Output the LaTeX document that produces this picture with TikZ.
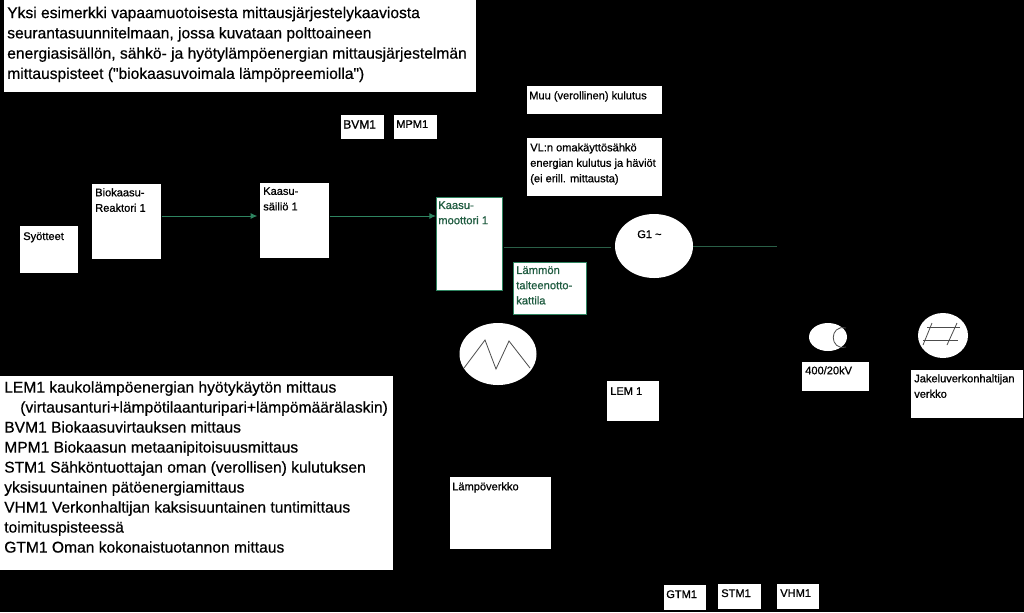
\documentclass[tikz,border=0pt]{standalone}
\usepackage{fontspec}
\setmainfont{Liberation Sans}
\newfontfamily\smallbold[FakeBold=0.8]{Liberation Sans}
\newfontfamily\bigbold[FakeBold=0.5]{Liberation Sans}
\usetikzlibrary{arrows.meta,shapes.geometric}
\definecolor{gline}{HTML}{2E8460}
\definecolor{gdark}{HTML}{2A5F47}
\definecolor{gtext}{HTML}{1F5C40}
\tikzset{
 x=0.75pt,y=-0.75pt,
 wbox/.style={fill=white,draw=none,inner sep=0pt},
 gbox/.style={fill=white,draw=gline,line width=0.6pt,inner sep=0pt},
 small/.style={font=\smallbold\fontsize{8.3}{11.6}\selectfont,anchor=north west,align=left,inner sep=0pt,text=black},
 big/.style={font=\bigbold\fontsize{11.7}{15.2}\selectfont,anchor=north west,align=left,inner sep=0pt,text=black},
 gsmall/.style={small,text=gtext,font=\smallbold\fontsize{8.4}{11.4}\selectfont},
 flow/.style={draw=gline,line width=0.75pt},
 flowd/.style={draw=gdark,line width=0.75pt},
 thin/.style={draw=black!70,line width=0.6pt},
}
\begin{document}
\begin{tikzpicture}
\useasboundingbox (0,0) rectangle (1024,612);
\fill[black] (0,0) rectangle (1024,612);
% boxes
\node[wbox,minimum width=472*0.75pt,minimum height=92*0.75pt,anchor=north west] (top) at (4,0) {};
\node[big] (toptext) at (7,6.5) {Yksi esimerkki vapaamuotoisesta mittausjärjestelykaaviosta\\seurantasuunnitelmaan, jossa kuvataan polttoaineen\\energiasisällön, sähkö- ja hyötylämpöenergian mittausjärjestelmän\\mittauspisteet ("biokaasuvoimala lämpöpreemiolla")};
\node[wbox,minimum width=43*0.75pt,minimum height=24*0.75pt,anchor=north west] (bvm) at (341,115) {};
\node[small,font=\smallbold\fontsize{9}{11}\selectfont] (bvmt) at (343,120) {BVM1};
\node[wbox,minimum width=43*0.75pt,minimum height=24*0.75pt,anchor=north west] (mpm) at (394,115) {};
\node[small] (mpmt) at (396,120) {MPM1};
\node[wbox,minimum width=135*0.75pt,minimum height=28*0.75pt,anchor=north west] (muu) at (527,86) {};
\node[small] (muut) at (529,91) {Muu (verollinen) kulutus};
\node[wbox,minimum width=135*0.75pt,minimum height=58*0.75pt,anchor=north west] (vl) at (527,138) {};
\node[small] (vlt) at (530,143) {VL:n omakäyttösähkö\\energian kulutus ja häviöt\\(ei erill. mittausta)};
\node[wbox,minimum width=58*0.75pt,minimum height=47*0.75pt,anchor=north west] (syo) at (20,226) {};
\node[small] (syot) at (23,232) {Syötteet};
\node[wbox,minimum width=69*0.75pt,minimum height=75*0.75pt,anchor=north west] (bio) at (92,184) {};
\node[small] (biot) at (95,188) {Biokaasu-\\Reaktori 1};
\node[wbox,minimum width=69*0.75pt,minimum height=75*0.75pt,anchor=north west] (sai) at (260,183) {};
\node[small] (sait) at (263,187) {Kaasu-\\säiliö 1};
\node[gbox,minimum width=66*0.75pt,minimum height=93*0.75pt,anchor=north west] (moot) at (436,197) {};
\node[gsmall] (moott) at (438,201) {Kaasu-\\moottori 1};
\node[gbox,minimum width=73*0.75pt,minimum height=52*0.75pt,anchor=north west] (lam) at (513,262) {};
\node[gsmall] (lamt) at (516,266) {Lämmön\\talteenotto-\\kattila};
\node[wbox,ellipse,minimum width=78*0.75pt,minimum height=64*0.75pt] (g1) at (654,246) {};
\node[small] (g1t) at (637,230) {G1 \textasciitilde};
\node[wbox,ellipse,minimum width=77*0.75pt,minimum height=62*0.75pt] (heat) at (498,354) {};
\coordinate (h1) at (464,368);
\coordinate (h2) at (485,340);
\coordinate (h3) at (496,369);
\coordinate (h4) at (509,341);
\coordinate (h5) at (530,368);
\draw[thin] (h1) -- (h2) -- (h3) -- (h4) -- (h5);
\node[wbox,minimum width=52*0.75pt,minimum height=40*0.75pt,anchor=north west] (lem) at (607,381) {};
\node[small] (lemt) at (610,387) {LEM 1};
\node[wbox,minimum width=101*0.75pt,minimum height=72*0.75pt,anchor=north west] (verk) at (450,477) {};
\node[small] (verkt) at (452,482) {Lämpöverkko};
\node[wbox,minimum width=393*0.75pt,minimum height=194*0.75pt,anchor=north west] (leg) at (0,376) {};
\node[big,font=\bigbold\fontsize{11.7}{15}\selectfont] (legt) at (4,381) {LEM1 kaukolämpöenergian hyötykäytön mittaus\\
\hspace*{12pt}(virtausanturi+lämpötilaanturipari+lämpömäärälaskin)\\
BVM1 Biokaasuvirtauksen mittaus\\
MPM1 Biokaasun metaanipitoisuusmittaus\\
STM1 Sähköntuottajan oman (verollisen) kulutuksen\\
yksisuuntainen pätöenergiamittaus\\
VHM1 Verkonhaltijan kaksisuuntainen tuntimittaus\\
toimituspisteessä\\
GTM1 Oman kokonaistuotannon mittaus};
\node[wbox,ellipse,minimum width=38*0.75pt,minimum height=28*0.75pt] (tr) at (828,337) {};
\coordinate (tr1) at (846,328);
\coordinate (tr2) at (846,347);
\draw[thin] (tr1) .. controls (829,324) and (829,351) .. (tr2);
\node[wbox,minimum width=67*0.75pt,minimum height=29*0.75pt,anchor=north west] (kv) at (802,362) {};
\node[small] (kvt) at (805,366) {400/20kV};
\node[wbox,ellipse,minimum width=50*0.75pt,minimum height=45*0.75pt] (grid) at (943,335.5) {};
\coordinate (g1a) at (932,323); \coordinate (g1b) at (923,345);
\coordinate (g2a) at (957,323); \coordinate (g2b) at (947,345);
\coordinate (g3a) at (927,327); \coordinate (g3b) at (960,327);
\coordinate (g4a) at (923,340); \coordinate (g4b) at (958,340);
\draw[thin] (g1a) -- (g1b); \draw[thin] (g2a) -- (g2b);
\draw[thin] (g3a) -- (g3b); \draw[thin] (g4a) -- (g4b);
\node[wbox,minimum width=112*0.75pt,minimum height=48*0.75pt,anchor=north west] (jak) at (911,370) {};
\node[small] (jakt) at (914,374) {Jakeluverkonhaltijan\\verkko};
\node[wbox,minimum width=42*0.75pt,minimum height=25*0.75pt,anchor=north west] (gtm) at (664,585) {};
\node[small] (gtmt) at (666,590) {GTM1};
\node[wbox,minimum width=43*0.75pt,minimum height=25*0.75pt,anchor=north west] (stm) at (718,584) {};
\node[small] (stmt) at (721,589) {STM1};
\node[wbox,minimum width=42*0.75pt,minimum height=25*0.75pt,anchor=north west] (vhm) at (777,584) {};
\node[small] (vhmt) at (780,589) {VHM1};
% connectors
\coordinate (yA) at (0,216);
\coordinate (yB) at (0,247);
\coordinate (gridfree) at (777,246);
\draw[flow,-{Latex[length=5pt,width=4.5pt]},shorten >=2pt] (bio.east|-yA) -- (sai.west|-yA);
\draw[flow,-{Latex[length=5pt,width=4.5pt]}] (sai.east|-yA) -- (moot.west|-yA);
\draw[flowd,shorten <=0.75pt,shorten >=3pt] (moot.east|-yB) -- (g1.west|-yB);
\draw[flowd] (g1.east) -- (gridfree);
\end{tikzpicture}
\end{document}
